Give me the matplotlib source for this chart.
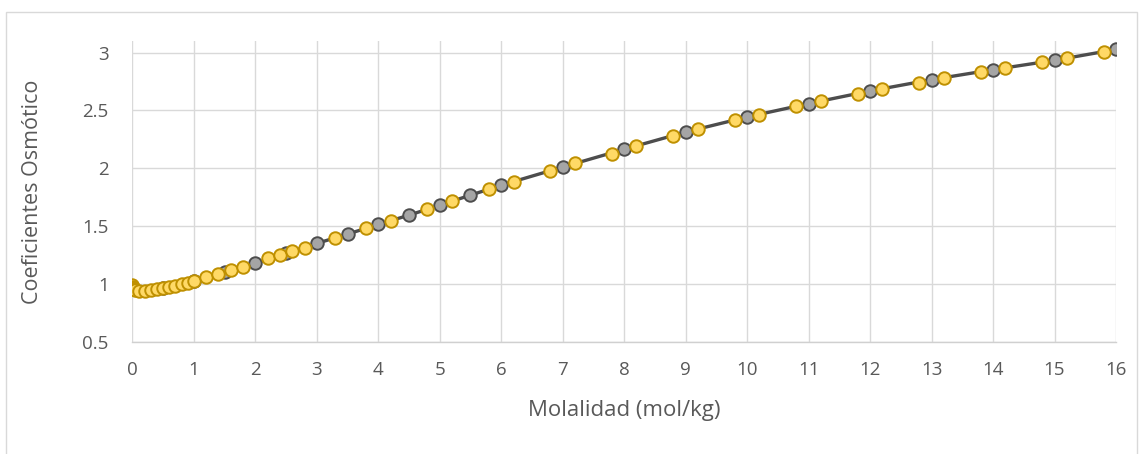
import numpy as np
import matplotlib.pyplot as plt
from matplotlib.patches import Rectangle

plt.rcParams['font.family'] = ['Open Sans', 'DejaVu Sans']

# serie gris (con línea)
m_gris = [0, 0.5, 1, 1.5, 2, 2.5, 3, 3.5, 4, 4.5, 5, 5.5, 6,
          7, 8, 9, 10, 11, 12, 13, 14, 15, 16]
phi_gris = [0.97, 0.962, 1.028, 1.10, 1.177, 1.265, 1.35, 1.43, 1.514, 1.594,
            1.68, 1.767, 1.853, 2.01, 2.164, 2.313, 2.443, 2.559, 2.668,
            2.766, 2.852, 2.933, 3.027]

# serie amarilla (solo marcadores)
m_amar = [0.001, 0.005, 0.01, 0.02, 0.05, 0.1, 0.2, 0.3, 0.4, 0.5, 0.6, 0.7,
          0.8, 0.9, 1.0, 1.2, 1.4, 1.6, 1.8, 2.2, 2.4, 2.6, 2.8, 3.3, 3.8,
          4.2, 4.8, 5.2, 5.8, 6.2, 6.8, 7.2, 7.8, 8.2, 8.8, 9.2, 9.8, 10.2,
          10.8, 11.2, 11.8, 12.2, 12.8, 13.2, 13.8, 14.2, 14.8, 15.2, 15.8]
phi_amar = [0.99, 0.975, 0.965, 0.955, 0.945, 0.94, 0.94, 0.945, 0.952, 0.962,
            0.972, 0.985, 0.997, 1.01, 1.025, 1.055, 1.085, 1.12, 1.15, 1.22,
            1.25, 1.286, 1.31, 1.40, 1.48, 1.545, 1.646, 1.72, 1.816, 1.88,
            1.974, 2.046, 2.127, 2.19, 2.279, 2.337, 2.415, 2.464, 2.535,
            2.578, 2.645, 2.688, 2.74, 2.78, 2.832, 2.87, 2.918, 2.95, 3.004]

x_ticks = np.arange(0, 17, 1)
y_ticks = [0.5, 1, 1.5, 2, 2.5, 3]

fig = plt.figure(figsize=(11.43, 4.54), dpi=100)
ax = fig.add_axes([0.1158, 0.2474, 0.9764 - 0.1158, 0.9097 - 0.2474])

fig.patches.append(Rectangle((5.5 / 1143, -0.01), (1137 - 5.5) / 1143,
                             1 - 11.7 / 454 + 0.01, transform=fig.transFigure,
                             fill=False, edgecolor='#D9D9D9', linewidth=1.0))

ax.plot(m_gris, phi_gris, '-o', color='#4D4D4D', linewidth=2.4,
        markersize=9, markerfacecolor='#A5A5A5', markeredgecolor='#4D4D4D',
        markeredgewidth=1.4, zorder=3)
ax.plot(m_amar, phi_amar, 'o', linestyle='none', markersize=9,
        markerfacecolor='#FFD966', markeredgecolor='#BF9000',
        markeredgewidth=1.4, zorder=4)

ax.set_xlim(0, 16)
ax.set_ylim(0.5, 3.1)
ax.set_xticks(x_ticks)
ax.set_yticks(y_ticks)
ax.set_yticklabels(['0.5', '1', '1.5', '2', '2.5', '3'])

ax.grid(True, color='#D9D9D9', linewidth=1.0)
ax.set_axisbelow(True)
for s in ['top', 'right', 'left']:
    ax.spines[s].set_visible(False)
ax.spines['bottom'].set_color('#D0D0D0')
ax.spines['bottom'].set_linewidth(1.0)

ax.tick_params(axis='both', length=0, labelsize=13.5, labelcolor='#595959')
ax.tick_params(axis='x', pad=14)
ax.tick_params(axis='y', pad=17)

ax.set_xlabel('Molalidad (mol/kg)', fontsize=16, color='#595959', labelpad=15)
ax.set_ylabel('Coeficientes Osmótico', fontsize=15.5, color='#595959', labelpad=28)

fig.savefig('out.png', dpi=100)
